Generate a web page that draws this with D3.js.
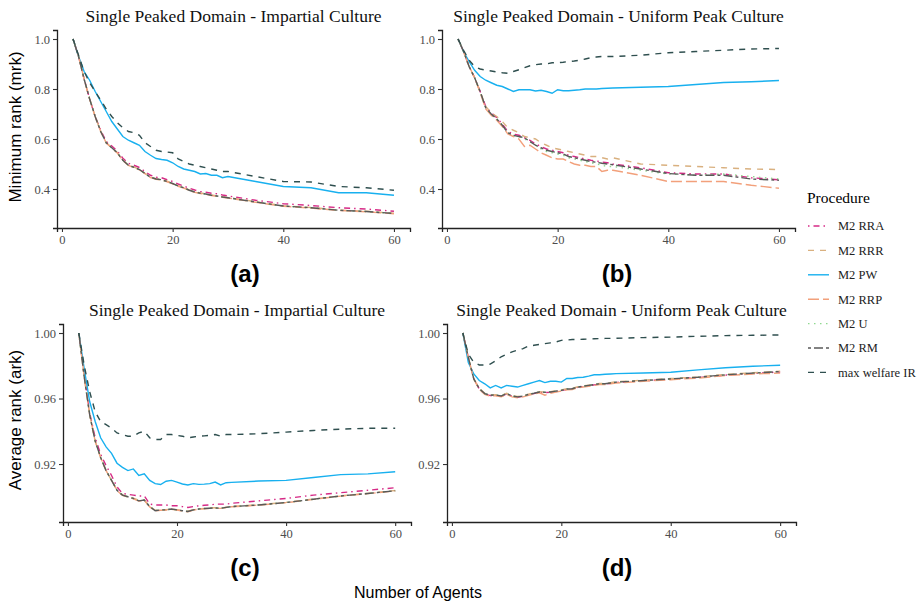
<!DOCTYPE html>
<html>
<head>
<meta charset="utf-8">
<script src="https://cdn.jsdelivr.net/npm/d3@7"></script>
<style>
  body { margin: 0; background: #fff; }
  svg { display: block; }
</style>
</head>
<body>
<div id="chart"></div>
<script>
// number of agents
var agents = [2,3,4,5,6,7,8,9,10,11,12,13,14,15,16,17,18,19,20,21,22,23,24,25,26,27,28,29,30,35,40,45,50,55,60];

var procedures = ["M2 RRA", "M2 RRR", "M2 PW", "M2 RRP", "M2 U", "M2 RM", "max welfare IR"];
var xTicks = [0, 20, 40, 60];
var mrkTicks = [0.4, 0.6, 0.8, 1.0];
var arkTicks = [0.92, 0.96, 1.00];

// (a) minimum rank, impartial culture
var mrkIcRRA = [1.0,0.93,0.84,0.76,0.69,0.635,0.59,0.572,0.552,0.523,0.503,0.495,0.486,0.47,0.455,0.447,0.445,0.437,0.43,0.42,0.412,0.403,0.396,0.39,0.387,0.383,0.381,0.376,0.372,0.355,0.341,0.334,0.325,0.32,0.311];
var mrkIcRRR = [1.0,0.93,0.84,0.76,0.69,0.63,0.586,0.566,0.546,0.516,0.496,0.488,0.479,0.463,0.448,0.441,0.438,0.431,0.423,0.413,0.406,0.396,0.389,0.384,0.381,0.376,0.373,0.369,0.366,0.349,0.333,0.326,0.316,0.311,0.303];
var mrkIcPW  = [1.0,0.93,0.87,0.835,0.79,0.75,0.71,0.67,0.64,0.61,0.595,0.585,0.575,0.55,0.535,0.522,0.518,0.515,0.505,0.49,0.48,0.475,0.47,0.46,0.462,0.455,0.455,0.445,0.45,0.43,0.41,0.405,0.385,0.385,0.375];
var mrkIcRRP = [1.0,0.93,0.84,0.76,0.69,0.63,0.584,0.564,0.544,0.514,0.494,0.486,0.477,0.461,0.446,0.439,0.436,0.429,0.421,0.411,0.404,0.394,0.387,0.382,0.379,0.374,0.371,0.367,0.364,0.347,0.331,0.324,0.314,0.309,0.301];
var mrkIcU   = [1.0,0.93,0.84,0.76,0.69,0.63,0.585,0.565,0.545,0.515,0.495,0.487,0.478,0.462,0.447,0.44,0.437,0.43,0.422,0.412,0.405,0.395,0.388,0.383,0.38,0.375,0.372,0.368,0.365,0.348,0.332,0.325,0.315,0.31,0.302];
var mrkIcRM  = [1.0,0.93,0.84,0.76,0.69,0.63,0.585,0.565,0.545,0.515,0.495,0.487,0.478,0.462,0.447,0.44,0.437,0.43,0.422,0.412,0.405,0.395,0.388,0.383,0.38,0.375,0.372,0.368,0.365,0.348,0.332,0.325,0.315,0.31,0.302];
var mrkIcMW  = [1.0,0.935,0.87,0.825,0.79,0.755,0.72,0.69,0.665,0.645,0.63,0.625,0.615,0.585,0.57,0.555,0.55,0.548,0.545,0.52,0.51,0.5,0.495,0.49,0.485,0.48,0.475,0.47,0.47,0.45,0.43,0.428,0.41,0.405,0.395];

// (b) minimum rank, uniform peak culture
var mrkUpRRA = [1.0,0.95,0.89,0.845,0.79,0.73,0.705,0.685,0.66,0.63,0.62,0.615,0.605,0.595,0.58,0.57,0.56,0.555,0.55,0.545,0.535,0.53,0.525,0.52,0.515,0.512,0.508,0.505,0.5,0.485,0.465,0.46,0.46,0.445,0.437];
var mrkUpRRR = [1.0,0.95,0.89,0.845,0.79,0.73,0.705,0.69,0.67,0.645,0.635,0.625,0.61,0.605,0.6,0.585,0.575,0.565,0.56,0.555,0.55,0.545,0.54,0.535,0.53,0.53,0.525,0.52,0.525,0.5,0.495,0.49,0.485,0.48,0.478];
var mrkUpPW  = [1.0,0.95,0.91,0.875,0.85,0.835,0.825,0.815,0.81,0.8,0.79,0.797,0.797,0.797,0.792,0.795,0.79,0.783,0.797,0.793,0.793,0.795,0.797,0.8,0.8,0.8,0.802,0.803,0.804,0.807,0.81,0.818,0.826,0.829,0.834];
var mrkUpRRP = [1.0,0.95,0.89,0.845,0.785,0.72,0.695,0.675,0.65,0.62,0.61,0.6,0.57,0.575,0.56,0.545,0.535,0.525,0.52,0.52,0.51,0.5,0.495,0.495,0.49,0.49,0.47,0.475,0.475,0.455,0.43,0.43,0.43,0.415,0.403];
var mrkUpU   = [1.0,0.95,0.89,0.845,0.79,0.725,0.7,0.68,0.655,0.625,0.615,0.61,0.6,0.59,0.575,0.56,0.55,0.545,0.54,0.535,0.525,0.52,0.515,0.51,0.505,0.5,0.495,0.49,0.49,0.475,0.46,0.455,0.46,0.45,0.44];
var mrkUpRM  = [1.0,0.95,0.89,0.845,0.79,0.725,0.7,0.68,0.655,0.625,0.615,0.61,0.605,0.59,0.575,0.565,0.555,0.55,0.545,0.54,0.53,0.525,0.52,0.515,0.51,0.507,0.503,0.5,0.497,0.48,0.462,0.455,0.455,0.44,0.435];
var mrkUpMW  = [1.0,0.955,0.915,0.89,0.88,0.875,0.872,0.868,0.865,0.863,0.87,0.877,0.885,0.893,0.897,0.9,0.9,0.905,0.905,0.907,0.91,0.912,0.915,0.92,0.925,0.928,0.93,0.93,0.93,0.935,0.945,0.95,0.955,0.96,0.962];

// (c) average rank, impartial culture
var arkIcRRA = [1.0,0.974,0.951,0.936,0.926,0.919,0.913,0.906,0.902,0.9015,0.901,0.9005,0.9005,0.8955,0.895,0.895,0.895,0.8945,0.8945,0.894,0.8935,0.894,0.8945,0.8948,0.895,0.8955,0.8955,0.8955,0.896,0.8975,0.899,0.901,0.9025,0.904,0.9055];
var arkIcRRR = [1.0,0.973,0.95,0.934,0.924,0.916,0.91,0.9042,0.9012,0.9003,0.8992,0.8978,0.8982,0.8942,0.8918,0.8922,0.8921,0.8926,0.8921,0.8917,0.8912,0.8921,0.8926,0.8929,0.8931,0.8933,0.8931,0.8936,0.8941,0.8951,0.8966,0.8986,0.9006,0.9021,0.9038];
var arkIcPW  = [1.0,0.978,0.958,0.946,0.936,0.9305,0.9265,0.9205,0.918,0.916,0.917,0.913,0.914,0.91,0.908,0.9075,0.9095,0.91,0.909,0.9078,0.9072,0.908,0.9076,0.9077,0.908,0.909,0.9072,0.9086,0.9088,0.9096,0.91,0.9118,0.9135,0.914,0.9153];
var arkIcRRP = [1.0,0.973,0.95,0.934,0.924,0.916,0.91,0.9038,0.9008,0.8998,0.8988,0.8974,0.8978,0.8938,0.8914,0.8918,0.8919,0.8924,0.8919,0.8913,0.8908,0.8919,0.8924,0.8927,0.8929,0.8931,0.8929,0.8934,0.8939,0.8949,0.8964,0.8984,0.9004,0.9019,0.9036];
var arkIcU   = [1.0,0.973,0.95,0.934,0.924,0.916,0.91,0.904,0.901,0.9,0.899,0.8976,0.898,0.894,0.8916,0.892,0.892,0.8925,0.892,0.8915,0.891,0.892,0.8925,0.8928,0.893,0.8932,0.893,0.8935,0.894,0.895,0.8965,0.8985,0.9005,0.902,0.9037];
var arkIcRM  = [1.0,0.973,0.95,0.934,0.924,0.916,0.91,0.904,0.901,0.9,0.899,0.8975,0.898,0.894,0.8915,0.892,0.892,0.8925,0.892,0.8915,0.891,0.892,0.8925,0.8928,0.893,0.8932,0.893,0.8935,0.894,0.895,0.8965,0.8985,0.9005,0.902,0.9037];
var arkIcMW  = [1.0,0.98,0.964,0.952,0.946,0.944,0.942,0.939,0.938,0.937,0.937,0.939,0.94,0.936,0.935,0.935,0.938,0.938,0.9375,0.937,0.936,0.9365,0.937,0.9372,0.9375,0.938,0.937,0.938,0.938,0.9385,0.9395,0.9405,0.9413,0.9418,0.9418];

// (d) average rank, uniform peak culture
var arkUpRRA = [1.0,0.985,0.972,0.9658,0.9628,0.9618,0.962,0.9613,0.9628,0.9613,0.9608,0.9613,0.9623,0.963,0.9638,0.9636,0.9638,0.9643,0.9648,0.9656,0.9658,0.9668,0.9673,0.9678,0.9683,0.9688,0.9688,0.9693,0.9698,0.9708,0.9718,0.9728,0.9743,0.9753,0.9762];
var arkUpRRR = [1.0,0.985,0.972,0.9662,0.9632,0.9622,0.9624,0.9617,0.9632,0.9617,0.9612,0.9617,0.9627,0.9634,0.9642,0.964,0.9642,0.9647,0.9652,0.966,0.9662,0.9672,0.9677,0.9682,0.9687,0.9692,0.9692,0.9697,0.9702,0.9712,0.9722,0.9732,0.9747,0.9757,0.9767];
var arkUpPW  = [1.0,0.982,0.975,0.971,0.969,0.9665,0.968,0.9665,0.968,0.9675,0.967,0.968,0.969,0.97,0.971,0.9697,0.9705,0.9705,0.97,0.9722,0.9722,0.9728,0.973,0.9737,0.9745,0.9745,0.9748,0.975,0.9752,0.9756,0.976,0.9775,0.9788,0.9797,0.9803];
var arkUpRRP = [1.0,0.985,0.972,0.9655,0.9625,0.9615,0.9617,0.961,0.9625,0.961,0.9605,0.961,0.962,0.9627,0.9635,0.962,0.9632,0.964,0.9645,0.9653,0.9655,0.9665,0.967,0.9675,0.968,0.9685,0.9685,0.969,0.9695,0.9705,0.9715,0.9725,0.974,0.975,0.9755];
var arkUpU   = [1.0,0.985,0.972,0.966,0.963,0.962,0.9622,0.9615,0.963,0.9615,0.961,0.9615,0.9625,0.9632,0.964,0.9638,0.964,0.9645,0.965,0.9658,0.966,0.967,0.9675,0.968,0.9685,0.969,0.969,0.9695,0.97,0.971,0.972,0.973,0.9745,0.9755,0.9765];
var arkUpRM  = [1.0,0.985,0.972,0.966,0.963,0.962,0.9622,0.9615,0.963,0.9615,0.961,0.9615,0.9625,0.9632,0.964,0.9638,0.964,0.9645,0.965,0.9658,0.966,0.967,0.9675,0.968,0.9685,0.969,0.969,0.9695,0.97,0.971,0.972,0.973,0.9745,0.9755,0.9765];
var arkUpMW  = [1.0,0.987,0.982,0.9805,0.9805,0.981,0.983,0.9855,0.987,0.9885,0.9895,0.9905,0.992,0.9925,0.993,0.9935,0.994,0.9945,0.9955,0.9957,0.996,0.996,0.9962,0.9963,0.9965,0.9966,0.9967,0.9967,0.9968,0.9972,0.9975,0.998,0.9984,0.9986,0.9988];

var colors = ["#d62a86", "#d9b07f", "#18b0ef", "#f2a07b", "#8fd98f", "#595959", "#2f4f4f"];
var dashes = ["1.5,4,6,4", "6,6", null, "11,4", "1.5,4.5", "3,3,9,3", "6,6"];

var width = 919, height = 605;
var svg = d3.select("#chart").append("svg")
    .attr("width", width)
    .attr("height", height);

var serif = "'Liberation Serif', 'DejaVu Serif', serif";
var sans = "'Liberation Sans', Arial, sans-serif";

var panels = [
  {left: 57, right: 410, top: 30, bottom: 228, yDomain: [0.244, 1.036], ticks: mrkTicks, fmt: ".1f",
   title: "Single Peaked Domain - Impartial Culture",
   series: [mrkIcRRA, mrkIcRRR, mrkIcPW, mrkIcRRP, mrkIcU, mrkIcRM, mrkIcMW]},
  {left: 442, right: 795, top: 30, bottom: 228, yDomain: [0.244, 1.036], ticks: mrkTicks, fmt: ".1f",
   title: "Single Peaked Domain - Uniform Peak Culture",
   series: [mrkUpRRA, mrkUpRRR, mrkUpPW, mrkUpRRP, mrkUpU, mrkUpRM, mrkUpMW]},
  {left: 63, right: 411, top: 324, bottom: 522, yDomain: [0.8846, 1.0055], ticks: arkTicks, fmt: ".2f",
   title: "Single Peaked Domain - Impartial Culture",
   series: [arkIcRRA, arkIcRRR, arkIcPW, arkIcRRP, arkIcU, arkIcRM, arkIcMW]},
  {left: 447, right: 796, top: 324, bottom: 522, yDomain: [0.8846, 1.0055], ticks: arkTicks, fmt: ".2f",
   title: "Single Peaked Domain - Uniform Peak Culture",
   series: [arkUpRRA, arkUpRRR, arkUpPW, arkUpRRP, arkUpU, arkUpRM, arkUpMW]}
];

panels.forEach(function(p) {
  var x = d3.scaleLinear().domain([-0.9, 62.9]).range([p.left, p.right]);
  var y = d3.scaleLinear().domain(p.yDomain).range([p.bottom, p.top]);
  var g = svg.append("g");

  // lines
  var line = d3.line()
      .x(function(d) { return x(d[0]); })
      .y(function(d) { return y(d[1]); });

  p.series.forEach(function(vals, i) {
    var pts = agents.map(function(a, j) { return [a, vals[j]]; });
    g.append("path")
      .datum(pts)
      .attr("d", line)
      .attr("fill", "none")
      .attr("stroke", colors[i])
      .attr("stroke-width", 1.4)
      .attr("stroke-dasharray", dashes[i]);
  });

  // axes
  var xAxis = g.append("g")
      .attr("transform", "translate(0," + p.bottom + ")")
      .call(d3.axisBottom(x).tickValues(xTicks).tickSizeOuter(0).tickSize(4).tickPadding(3));
  var yAxis = g.append("g")
      .attr("transform", "translate(" + p.left + ",0)")
      .call(d3.axisLeft(y).tickValues(p.ticks).tickFormat(d3.format(p.fmt)).tickSizeOuter(0).tickSize(4).tickPadding(3));

  [xAxis, yAxis].forEach(function(ax) {
    ax.select(".domain").attr("stroke", "#222").attr("stroke-width", 1.3);
    ax.selectAll(".tick line").attr("stroke", "#333").attr("stroke-width", 1.1);
    ax.selectAll(".tick text")
      .attr("fill", "#4d4d4d")
      .style("font-family", serif)
      .style("font-size", "12.5px");
  });

  g.append("text")
    .attr("x", (p.left + p.right) / 2)
    .attr("y", p.top - 8)
    .attr("text-anchor", "middle")
    .style("font-family", serif)
    .style("font-size", "17.5px")
    .attr("fill", "#111")
    .text(p.title);
});

// subfigure labels
var subLabels = [["(a)", 245, 282], ["(b)", 617, 282], ["(c)", 245, 576], ["(d)", 617, 576]];
svg.selectAll(".sub")
  .data(subLabels)
  .enter()
  .append("text")
  .attr("class", "sub")
  .attr("x", function(d) { return d[1]; })
  .attr("y", function(d) { return d[2]; })
  .attr("text-anchor", "middle")
  .style("font-family", sans)
  .style("font-weight", "bold")
  .style("font-size", "24px")
  .text(function(d) { return d[0]; });

// axis titles
svg.append("text")
  .attr("transform", "translate(21,127) rotate(-90)")
  .attr("text-anchor", "middle")
  .style("font-family", sans)
  .style("font-size", "17px")
  .text("Minimum rank (mrk)");

svg.append("text")
  .attr("transform", "translate(21,420) rotate(-90)")
  .attr("text-anchor", "middle")
  .style("font-family", sans)
  .style("font-size", "17px")
  .text("Average rank (ark)");

svg.append("text")
  .attr("x", 418)
  .attr("y", 598)
  .attr("text-anchor", "middle")
  .style("font-family", sans)
  .style("font-size", "16px")
  .text("Number of Agents");

// legend
var legend = svg.append("g");
legend.append("text")
  .attr("x", 807)
  .attr("y", 203)
  .style("font-family", serif)
  .style("font-size", "15.5px")
  .text("Procedure");

var item = legend.selectAll(".item")
  .data(procedures)
  .enter()
  .append("g")
  .attr("class", "item")
  .attr("transform", function(d, i) { return "translate(0," + (226 + i * 24.4) + ")"; });

item.append("line")
  .attr("x1", 808)
  .attr("x2", 829)
  .attr("stroke", function(d, i) { return colors[i]; })
  .attr("stroke-width", 1.4)
  .attr("stroke-dasharray", function(d, i) { return dashes[i]; });

item.append("text")
  .attr("x", 838)
  .attr("dy", "0.35em")
  .style("font-family", serif)
  .style("font-size", "12.5px")
  .attr("fill", "#222")
  .text(function(d) { return d; });
</script>
</body>
</html>
